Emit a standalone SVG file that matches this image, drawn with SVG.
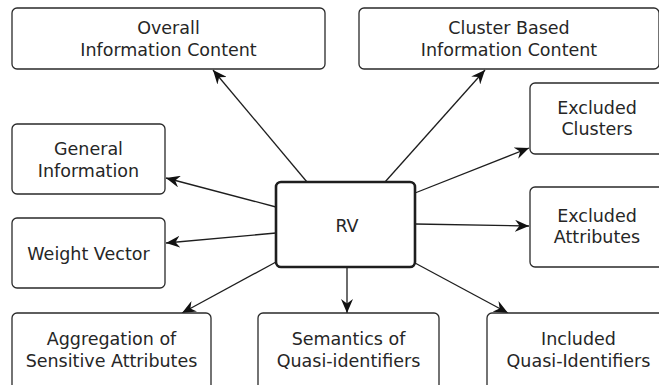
<svg xmlns="http://www.w3.org/2000/svg" width="659" height="385" viewBox="0 0 659 385">
  <style>
    .box { fill: #ffffff; stroke: #2a2a2a; stroke-width: 1.3; }
    .hub { fill: #ffffff; stroke: #1e1e1e; stroke-width: 2.6; }
    .lbl { font-family: "DejaVu Sans", "Liberation Sans", sans-serif; font-size: 17.5px; fill: #262626; text-anchor: middle; }
    .edge { stroke: #1e1e1e; stroke-width: 1.3; fill: none; marker-end: url(#arrow); }
  </style>
  <defs>
    <marker id="arrow" viewBox="0 0 14 12" refX="14" refY="6" markerWidth="14" markerHeight="12" markerUnits="userSpaceOnUse" orient="auto">
      <path d="M0,0 L14,6 L0,12 L4.5,6 Z" fill="#111111"/>
    </marker>
  </defs>
  <rect width="659" height="385" fill="#ffffff"/>

  <g id="connectors">
    <line class="edge" x1="307" y1="182" x2="213" y2="70"/>
    <line class="edge" x1="385" y1="182" x2="485" y2="70"/>
    <line class="edge" x1="415" y1="193" x2="529" y2="148"/>
    <line class="edge" x1="415" y1="224" x2="529" y2="226"/>
    <line class="edge" x1="415" y1="263" x2="508" y2="313"/>
    <line class="edge" x1="347" y1="267" x2="347" y2="313"/>
    <line class="edge" x1="276" y1="262" x2="182" y2="313"/>
    <line class="edge" x1="276" y1="233" x2="166" y2="243"/>
    <line class="edge" x1="276" y1="207" x2="166" y2="178"/>
  </g>

  <g id="rv">
    <rect class="hub" x="276" y="182" width="139" height="85" rx="5"/>
    <text class="lbl" x="347" y="232">RV</text>
  </g>

  <g id="overall-information-content">
    <rect class="box" x="12" y="8" width="313" height="61" rx="5"/>
    <text class="lbl" x="168.5" y="34">Overall</text>
    <text class="lbl" x="168.5" y="56">Information Content</text>
  </g>

  <g id="cluster-based-information-content">
    <rect class="box" x="359" y="8" width="300" height="61" rx="5"/>
    <text class="lbl" x="509" y="34">Cluster Based</text>
    <text class="lbl" x="509" y="56">Information Content</text>
  </g>

  <g id="general-information">
    <rect class="box" x="12" y="124" width="153" height="70" rx="5"/>
    <text class="lbl" x="88.5" y="155">General</text>
    <text class="lbl" x="88.5" y="177">Information</text>
  </g>

  <g id="weight-vector">
    <rect class="box" x="12" y="218" width="153" height="70" rx="5"/>
    <text class="lbl" x="88.5" y="260">Weight Vector</text>
  </g>

  <g id="excluded-clusters">
    <rect class="box" x="530" y="83" width="134" height="71" rx="5"/>
    <text class="lbl" x="597" y="114">Excluded</text>
    <text class="lbl" x="597" y="135">Clusters</text>
  </g>

  <g id="excluded-attributes">
    <rect class="box" x="530" y="187" width="134" height="80" rx="5"/>
    <text class="lbl" x="597" y="222">Excluded</text>
    <text class="lbl" x="597" y="243">Attributes</text>
  </g>

  <g id="aggregation-of-sensitive-attributes">
    <rect class="box" x="12" y="313" width="199" height="80" rx="5"/>
    <text class="lbl" x="111.5" y="345">Aggregation of</text>
    <text class="lbl" x="111.5" y="367">Sensitive Attributes</text>
  </g>

  <g id="semantics-of-quasi-identifiers">
    <rect class="box" x="258" y="313" width="181" height="80" rx="5"/>
    <text class="lbl" x="348.5" y="345">Semantics of</text>
    <text class="lbl" x="348.5" y="367">Quasi-identifiers</text>
  </g>

  <g id="included-quasi-identifiers">
    <rect class="box" x="487" y="313" width="183" height="80" rx="5"/>
    <text class="lbl" x="578.5" y="345">Included</text>
    <text class="lbl" x="578.5" y="367">Quasi-Identifiers</text>
  </g>
</svg>
